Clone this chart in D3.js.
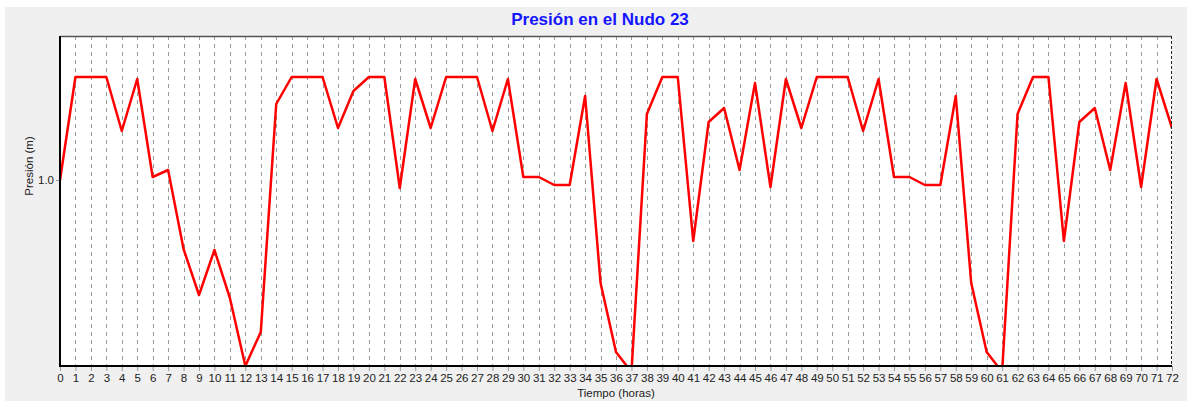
<!DOCTYPE html>
<html>
<head>
<meta charset="utf-8">
<script src="https://cdn.jsdelivr.net/npm/d3@7"></script>
<style>
  body { margin: 0; background: #fff; }
  svg { display: block; font-family: "Liberation Sans", Arial, sans-serif; }
</style>
</head>
<body>
<div id="chart"></div>
<script>
// Hours 0..72 and pressure values
const hours = d3.range(0, 73);
const pressure = [
  1.0, 1.0309, 1.0309, 1.0309, 1.0147, 1.0303, 1.0009, 1.003, 0.9793, 0.9655,
  0.979, 0.9646, 0.9442, 0.9544, 1.0228, 1.0309, 1.0309, 1.0309, 1.0156, 1.0267,
  1.0309, 1.0309, 0.9976, 1.0303, 1.0156, 1.0309, 1.0309, 1.0309, 1.0147, 1.0303,
  1.0009, 1.0009, 0.9985, 0.9985, 1.0252, 0.9691, 0.9484, 0.9424, 1.0198, 1.0309,
  1.0309, 0.9817, 1.0174, 1.0216, 1.003, 1.0291, 0.9979, 1.0303, 1.0156, 1.0309,
  1.0309, 1.0309, 1.0147, 1.0303, 1.0009, 1.0009, 0.9985, 0.9985, 1.0252, 0.9691,
  0.9484, 0.9424, 1.0198, 1.0309, 1.0309, 0.9817, 1.0174, 1.0216, 1.003, 1.0291,
  0.9979, 1.0303, 1.0156
];
const yTicks = [1.0];

const W = 1187, H = 401;
const margin = { top: 36, right: 15, bottom: 35, left: 60 };
const width = W - margin.left - margin.right,
      height = H - margin.top - margin.bottom;

const svg = d3.select("#chart").append("svg")
    .attr("width", W)
    .attr("height", H);

// grey panel
svg.append("rect")
  .attr("x", 5).attr("y", 7)
  .attr("width", W - 5).attr("height", H - 7)
  .attr("fill", "#f0f0f0");

const g = svg.append("g")
  .attr("transform", `translate(${margin.left},${margin.top})`);

g.append("rect")
  .attr("width", width).attr("height", height)
  .attr("fill", "#fff");

const x = d3.scaleLinear().domain([0, 72]).range([0, width]);
const y = d3.scaleLinear().domain([0.9442, 1.0432]).range([height, 0]);

// vertical dashed grid
g.append("g")
  .selectAll("line")
  .data(hours.slice(1, -1))
  .enter().append("line")
    .attr("x1", d => Math.round(x(d)) + 0.5)
    .attr("x2", d => Math.round(x(d)) + 0.5)
    .attr("y1", 0).attr("y2", height)
    .attr("stroke", "#9a9a9a")
    .attr("stroke-dasharray", "4,4");

// x axis
const xAxis = g.append("g")
  .attr("transform", `translate(0,${height})`)
  .call(d3.axisBottom(x).tickValues(hours).tickFormat(d3.format("d")).tickSize(5).tickPadding(3));
xAxis.select(".domain").remove();
xAxis.selectAll(".tick line").attr("stroke", "#999");
xAxis.selectAll("text").attr("font-size", 11.5).attr("fill", "#222")
  .attr("font-family", "Liberation Sans, Arial, sans-serif");

// y axis
const yAxis = g.append("g")
  .call(d3.axisLeft(y).tickValues(yTicks).tickFormat(d3.format(".1f")).tickSize(4).tickPadding(2));
yAxis.select(".domain").remove();
yAxis.selectAll(".tick line").attr("stroke", "#999");
yAxis.selectAll("text").attr("font-size", 11.5).attr("fill", "#222")
  .attr("font-family", "Liberation Sans, Arial, sans-serif");

// clip
g.append("clipPath").attr("id", "clip")
  .append("rect").attr("width", width).attr("height", height);

const line = d3.line()
  .x((d, i) => x(hours[i]))
  .y(d => y(d));

g.append("path")
  .datum(pressure)
  .attr("clip-path", "url(#clip)")
  .attr("fill", "none")
  .attr("stroke", "#ff0000")
  .attr("stroke-width", 2.5)
  .attr("stroke-linejoin", "round")
  .attr("d", line);

// frame
g.append("line").attr("x1", 0).attr("x2", width).attr("y1", 0.5).attr("y2", 0.5)
  .attr("stroke", "#555").attr("stroke-width", 1.5);
g.append("line").attr("x1", width - 0.5).attr("x2", width - 0.5).attr("y1", 0).attr("y2", height)
  .attr("stroke", "#222").attr("stroke-dasharray", "3,2");
g.append("line").attr("x1", 0).attr("x2", 0).attr("y1", 0).attr("y2", height + 1)
  .attr("stroke", "#000").attr("stroke-width", 2);
g.append("line").attr("x1", 0).attr("x2", width).attr("y1", height).attr("y2", height)
  .attr("stroke", "#000").attr("stroke-width", 2);

// title and axis labels
svg.append("text")
  .attr("x", 600).attr("y", 25)
  .attr("text-anchor", "middle")
  .attr("font-size", 17).attr("font-weight", "bold")
  .attr("fill", "#1515ff")
  .text("Presión en el Nudo 23");

svg.append("text")
  .attr("x", margin.left + width / 2).attr("y", 397)
  .attr("text-anchor", "middle")
  .attr("font-size", 11.5).attr("fill", "#222")
  .text("Tiempo (horas)");

svg.append("text")
  .attr("transform", `translate(33,${margin.top + height / 2 - 35}) rotate(-90)`)
  .attr("text-anchor", "middle")
  .attr("font-size", 11.5).attr("fill", "#222")
  .text("Presión (m)");
</script>
</body>
</html>
